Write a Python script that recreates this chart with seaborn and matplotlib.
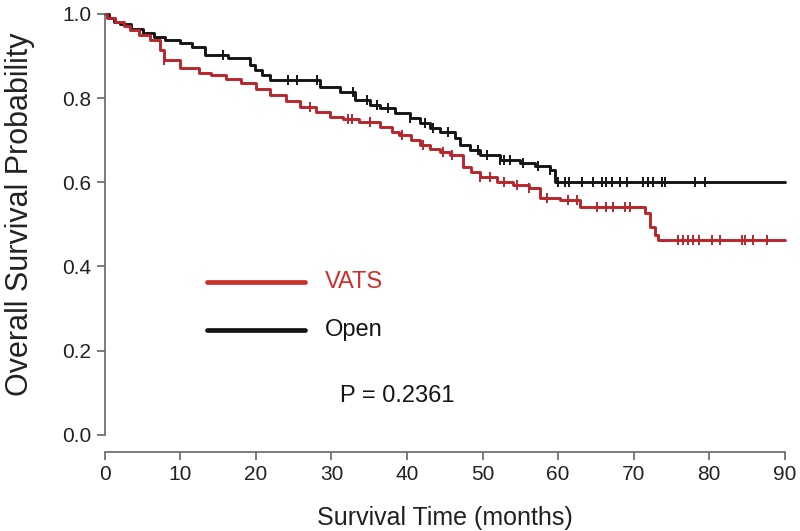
import numpy as np
import pandas as pd
import matplotlib
matplotlib.use('Agg')
import matplotlib.pyplot as plt
import seaborn as sns

# Kaplan-Meier step points (months, survival)
open_t = [0, 0.5, 1.2, 2.0, 3.5, 5.0, 6.5, 8.0, 10.0, 11.5, 13.2, 16.3, 19.2, 19.9, 20.8,
          21.8, 28.5, 31.1, 33.1, 35.1, 36.4, 38.4, 40.4, 41.7, 43.0, 44.3, 46.3, 47.0,
          48.3, 49.6, 52.3, 54.9, 56.9, 58.9, 59.6, 90]
open_s = [1.0, 0.99, 0.98, 0.975, 0.965, 0.955, 0.945, 0.938, 0.931, 0.92, 0.903, 0.895,
          0.879, 0.867, 0.855, 0.843, 0.827, 0.815, 0.796, 0.784, 0.777, 0.765, 0.753,
          0.741, 0.729, 0.72, 0.705, 0.689, 0.677, 0.665, 0.653, 0.646, 0.639, 0.629,
          0.60, 0.60]

vats_t = [0, 0.3, 1.3, 2.5, 3.3, 4.5, 6.0, 7.3, 7.9, 9.9, 12.5, 14.0, 16.0, 18.0, 20.0,
          21.8, 24.0, 25.8, 28.0, 29.8, 31.5, 33.7, 36.4, 38.0, 39.0, 40.5, 41.7, 43.0,
          44.3, 45.7, 47.4, 48.5, 49.6, 51.9, 54.0, 56.2, 57.6, 60.2, 62.9, 71.5, 72.1,
          72.8, 73.2, 90]
vats_s = [1.0, 0.99, 0.98, 0.97, 0.962, 0.95, 0.938, 0.914, 0.891, 0.872, 0.86, 0.855,
          0.845, 0.836, 0.822, 0.808, 0.793, 0.779, 0.766, 0.755, 0.75, 0.743, 0.73,
          0.72, 0.712, 0.70, 0.689, 0.68, 0.672, 0.665, 0.637, 0.625, 0.613, 0.601,
          0.594, 0.587, 0.563, 0.558, 0.542, 0.527, 0.494, 0.475, 0.463, 0.463]

# censoring times
open_cens = [15.6, 24.2, 25.4, 28.1, 32.8, 34.7, 36.0, 37.5, 40.4, 42.4, 43.4, 45.4, 49.4,
             50.6, 52.3, 52.9, 53.6, 55.3, 57.3, 58.9, 60.0, 60.9, 61.5, 63.1, 64.6, 65.8,
             66.4, 67.1, 68.2, 69.1, 71.2, 71.9, 72.5, 73.7, 74.1, 78.1, 79.4]
vats_cens = [7.9, 27.1, 32.2, 32.7, 35.1, 39.3, 42.1, 44.7, 45.9, 49.6, 51.0, 52.9, 54.5,
             56.2, 58.5, 61.3, 62.5, 65.1, 66.4, 67.2, 68.8, 69.5, 75.8, 76.5, 77.2, 77.8,
             78.7, 80.3, 81.4, 84.3, 84.7, 85.8, 87.7]

p_text = 'P = 0.2361'

RED = '#b8262b'
BLACK = '#151515'


def step_value(times, surv, t):
    idx = np.searchsorted(times, t, side='right') - 1
    return np.asarray(surv)[idx]


sns.set_style('ticks')
plt.rcParams['font.family'] = ['Liberation Sans', 'DejaVu Sans']

fig = plt.figure(figsize=(8, 5.31), dpi=100)
ax = fig.add_axes([0.131, 0.181, 0.85, 0.793])

for t, s, cens, col in [(open_t, open_s, open_cens, BLACK), (vats_t, vats_s, vats_cens, RED)]:
    sns.lineplot(x=t, y=s, ax=ax, color=col, linewidth=2.1, drawstyle='steps-post',
                 estimator=None, sort=False, clip_on=False)
    cdf = pd.DataFrame({'t': cens, 's': step_value(np.array(t), s, np.array(cens))})
    sns.scatterplot(data=cdf, x='t', y='s', ax=ax, marker='|', s=60, color=col,
                    linewidth=1.4, clip_on=False, zorder=3)

ax.set_xlim(0, 90)
ax.set_ylim(0, 1.0)
ax.set_xticks(range(0, 91, 10))
ax.set_yticks([0, 0.2, 0.4, 0.6, 0.8, 1.0])
ax.set_yticklabels(['0.0', '0.2', '0.4', '0.6', '0.8', '1.0'])
ax.tick_params(labelsize=15, colors='#666666', labelcolor='#222222', length=6, width=1.2)
for side in ['top', 'right']:
    ax.spines[side].set_visible(False)
for side in ['left', 'bottom']:
    ax.spines[side].set_color('#666666')
    ax.spines[side].set_linewidth(1.2)
ax.spines['bottom'].set_position(('outward', 12))

ax.set_xlabel('Survival Time (months)', fontsize=18, color='#222222', labelpad=16)
ax.set_ylabel('Overall Survival Probability', fontsize=22, color='#222222')
ax.yaxis.set_label_coords(-0.103, 0.525)

# hand-drawn legend as in the original
ax.plot([0.15, 0.294], [0.363, 0.363], transform=ax.transAxes, color='#c9302c', linewidth=3.4)
ax.plot([0.15, 0.294], [0.249, 0.249], transform=ax.transAxes, color=BLACK, linewidth=3.4)
ax.text(0.324, 0.363, 'VATS', transform=ax.transAxes, color='#c9302c', fontsize=17, va='center')
ax.text(0.324, 0.249, 'Open', transform=ax.transAxes, color=BLACK, fontsize=17, va='center')
ax.text(0.346, 0.093, p_text, transform=ax.transAxes, color=BLACK, fontsize=17, va='center')

fig.savefig('out.png', dpi=100)
